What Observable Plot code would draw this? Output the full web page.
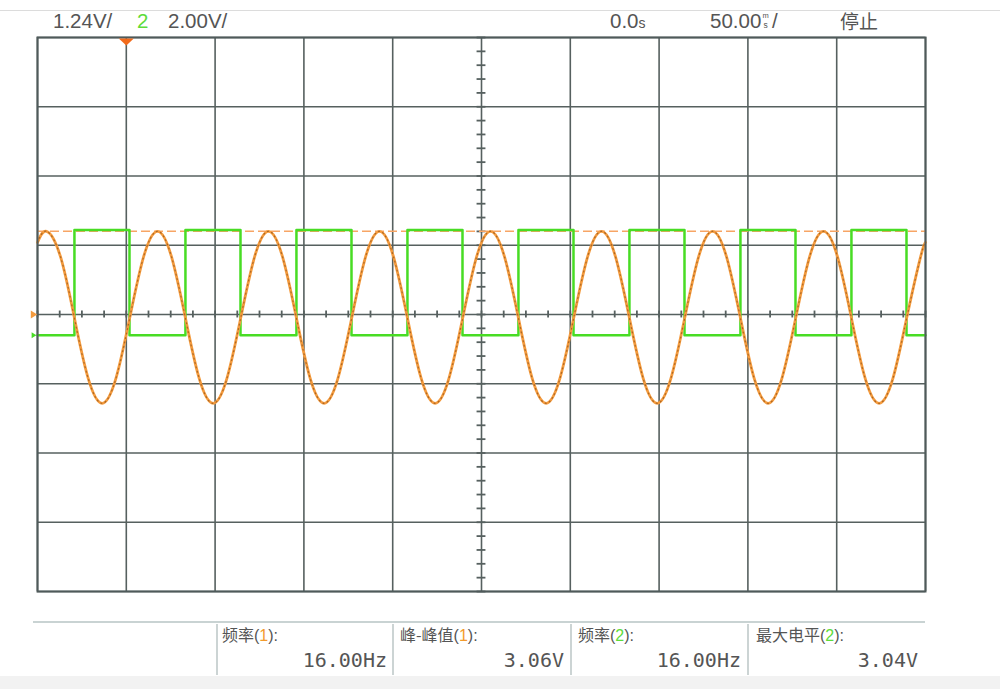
<!DOCTYPE html>
<html><head><meta charset="utf-8">
<script src="https://cdn.jsdelivr.net/npm/d3@7"></script>
<script src="https://cdn.jsdelivr.net/npm/@observablehq/plot@0.6"></script>
<style>
html,body{margin:0;padding:0;background:#fff;}
#wrap{position:relative;width:1000px;height:689px;overflow:hidden;}
#wrap svg{position:absolute;left:0;top:0;}
</style></head><body><div id="wrap"></div>
<script>
// ---- settings ----
const ch1VoltsPerDiv = 1.24;
const ch2VoltsPerDiv = 2.00;
const ch2GroundDiv = -0.30;
const triggerTime = -200;      // ms
const triggerLevel = 1.49;     // V (ch1)

// ---- grid divisions (time in ms, vertical in divisions) ----
const xDivs = [-250, -200, -150, -100, -50, 0, 50, 100, 150, 200, 250];
const yDivs = [-4, -3, -2, -1, 0, 1, 2, 3, 4];

// ---- channel 1 (orange sine), time ms / volts ----
const sineT = [-250,
  -244.9, -237.1, -229.3, -221.5, -213.6, -205.8, -198.0, -190.2,
  -182.4, -174.6, -166.8, -159.0, -151.1, -143.3, -135.5, -127.7,
  -119.9, -112.1, -104.3, -96.5, -88.6, -80.8, -73.0, -65.2,
  -57.4, -49.6, -41.8, -34.0, -26.1, -18.3, -10.5, -2.7,
  5.1, 12.9, 20.7, 28.5, 36.4, 44.2, 52.0, 59.8,
  67.6, 75.4, 83.2, 91.0, 98.9, 106.7, 114.5, 122.3,
  130.1, 137.9, 145.7, 153.5, 161.4, 169.2, 177.0, 184.8,
  192.6, 200.4, 208.2, 216.0, 223.9, 231.7, 239.5, 247.3,
  250];
const sineV = [1.29,
  1.49, 1.04, -0.05, -1.14, -1.59, -1.14, -0.05, 1.04,
  1.49, 1.04, -0.05, -1.14, -1.59, -1.14, -0.05, 1.04,
  1.49, 1.04, -0.05, -1.14, -1.59, -1.14, -0.05, 1.04,
  1.49, 1.04, -0.05, -1.14, -1.59, -1.14, -0.05, 1.04,
  1.49, 1.04, -0.05, -1.14, -1.59, -1.14, -0.05, 1.04,
  1.49, 1.04, -0.05, -1.14, -1.59, -1.14, -0.05, 1.04,
  1.49, 1.04, -0.05, -1.14, -1.59, -1.14, -0.05, 1.04,
  1.49, 1.04, -0.05, -1.14, -1.59, -1.14, -0.05, 1.04,
  1.29];

// ---- channel 2 (green square), edge times ms / volts ----
const sqT = [-250, -229.2, -198.2, -166.7, -135.7, -104.2, -73.2, -41.7, -10.7,
  20.8, 51.8, 83.3, 114.3, 145.8, 176.8, 208.3, 239.3, 250];
const sqV = [0, 3.04, 0, 3.04, 0, 3.04, 0, 3.04, 0,
  3.04, 0, 3.04, 0, 3.04, 0, 3.04, 0, 0];

// ---- texts ----
const headerCh1 = "1.24V/";
const headerCh2Num = "2";
const headerCh2 = "2.00V/";
const headerDelay = "0.0";
const headerTimebase = "50.00";
const headerState = "停止";
const measLabels = ["频率", "峰-峰值", "频率", "最大电平"];
const measChannels = ["1", "1", "2", "2"];
const measValues = ["16.00Hz", "3.06V", "16.00Hz", "3.04V"];

const sine = sineT.map((t, i) => ({t, v: sineV[i]}));
const sq = sqT.map((t, i) => ({t, v: sqV[i]}));
const xMinor = d3.range(-250, 250.01, 12.5);
const yMinor = d3.range(-4, 4.001, 0.2);

const gridColor = "#56605f";
const orange = "#f49b3e";
const green = "#48dc24";

const downTri = {draw(ctx, size) { const r = Math.sqrt(size / Math.PI);
  ctx.moveTo(-1.5 * r, -0.7 * r); ctx.lineTo(1.5 * r, -0.7 * r); ctx.lineTo(0, 0.7 * r); ctx.closePath(); }};
const rightTri = {draw(ctx, size) { const r = Math.sqrt(size / Math.PI);
  ctx.moveTo(-0.8 * r, -r); ctx.lineTo(0.8 * r, 0); ctx.lineTo(-0.8 * r, r); ctx.closePath(); }};

const chart = Plot.plot({
  width: 1000, height: 689,
  marginLeft: 37, marginRight: 75, marginTop: 37, marginBottom: 98,
  x: {domain: [-250, 250], axis: null},
  y: {domain: [-4, 4], axis: null},
  style: {background: "transparent"},
  marks: [
    Plot.ruleX(xDivs, {stroke: gridColor, strokeWidth: 1.6}),
    Plot.ruleY(yDivs, {stroke: gridColor, strokeWidth: 1.6}),
    Plot.ruleX(xMinor, {y1: -0.05, y2: 0.05, stroke: gridColor, strokeWidth: 1.8}),
    Plot.ruleY(yMinor, {x1: -2.5, x2: 2.5, stroke: gridColor, strokeWidth: 1.8}),
    Plot.ruleY([triggerLevel / ch1VoltsPerDiv], {stroke: "#f7a565", strokeWidth: 1.6, strokeDasharray: "9,4"}),
    Plot.line(sq, {x: "t", y: d => d.v / ch2VoltsPerDiv + ch2GroundDiv, curve: "step-after", stroke: green, strokeWidth: 2.5}),
    Plot.line(sine, {x: "t", y: d => d.v / ch1VoltsPerDiv, curve: "natural", stroke: orange, strokeWidth: 2.8}),
    Plot.line(sine, {x: "t", y: d => d.v / ch1VoltsPerDiv, curve: "natural", stroke: "#9a5a1e", strokeWidth: 1.2, strokeOpacity: 0.8, strokeDasharray: "1,3.5"}),
    Plot.frame({stroke: "#4f5a5a", strokeWidth: 2}),
    Plot.dot([triggerTime], {x: d => d, frameAnchor: "top", dy: 4.5, symbol: downTri, r: 5, fill: "#f26a1b", stroke: "none"}),
    Plot.dot([0], {x: -250, y: d => d, dx: -3.5, symbol: rightTri, r: 4, fill: orange, stroke: "none"}),
    Plot.dot([ch2GroundDiv], {x: -250, y: d => d, dx: -3.5, symbol: rightTri, r: 3, fill: green, stroke: "none"})
  ]
});
document.getElementById("wrap").appendChild(chart);

const svg = d3.select(chart);
const dec = svg.insert("g", ":first-child");
dec.append("line").attr("x1", 0).attr("x2", 1000).attr("y1", 10.5).attr("y2", 10.5).attr("stroke", "#dcdcdc");
dec.append("rect").attr("x", 0).attr("y", 676).attr("width", 1000).attr("height", 13).attr("fill", "#f2f2f2");
dec.append("line").attr("x1", 33).attr("x2", 925).attr("y1", 622).attr("y2", 622).attr("stroke", "#c9d3d3").attr("stroke-width", 2);
[217, 393, 571, 748].forEach(x => dec.append("line").attr("x1", x).attr("x2", x).attr("y1", 624).attr("y2", 675).attr("stroke", "#ccd4d4").attr("stroke-width", 2));

const txt = svg.append("g").attr("fill", "#555");
const lat = "'Liberation Sans', Arial, sans-serif";
const cjk = "'Noto Sans CJK SC', sans-serif";
const mono = "'DejaVu Sans Mono', monospace";
function t(x, y, s, font, size, anchor, fill) {
  return txt.append("text").attr("x", x).attr("y", y).text(s).attr("font-family", font)
    .attr("font-size", size).attr("text-anchor", anchor || "start").attr("fill", fill || "#555");
}
t(53, 28, headerCh1, lat, 20.5);
t(137, 28, headerCh2Num, lat, 20.5, "start", "#5ddc3a");
t(168, 28, headerCh2, lat, 20.5);
const d0 = t(610, 28, headerDelay, lat, 20.5);
d0.append("tspan").attr("font-size", 14).text("s");
t(710, 28, headerTimebase, lat, 20.5);
t(762.5, 17.5, "m", lat, 7.5);
t(763.5, 27.5, "s", lat, 8.5);
t(772, 28, "/", lat, 20.5);
t(840, 29, headerState, cjk, 19);

const starts = [222, 400, 578, 756];
const ends = [387, 564, 741, 918];
measLabels.forEach((lab, i) => {
  const el = t(starts[i], 641, lab, cjk, 16);
  el.append("tspan").attr("font-family", lat).text("(");
  el.append("tspan").attr("font-family", lat).attr("fill", measChannels[i] === "1" ? "#f39a2c" : "#5ddc3a").text(measChannels[i]);
  el.append("tspan").attr("font-family", lat).text("):");
  t(ends[i], 667, measValues[i], mono, 20, "end");
});
</script>
</body></html>
